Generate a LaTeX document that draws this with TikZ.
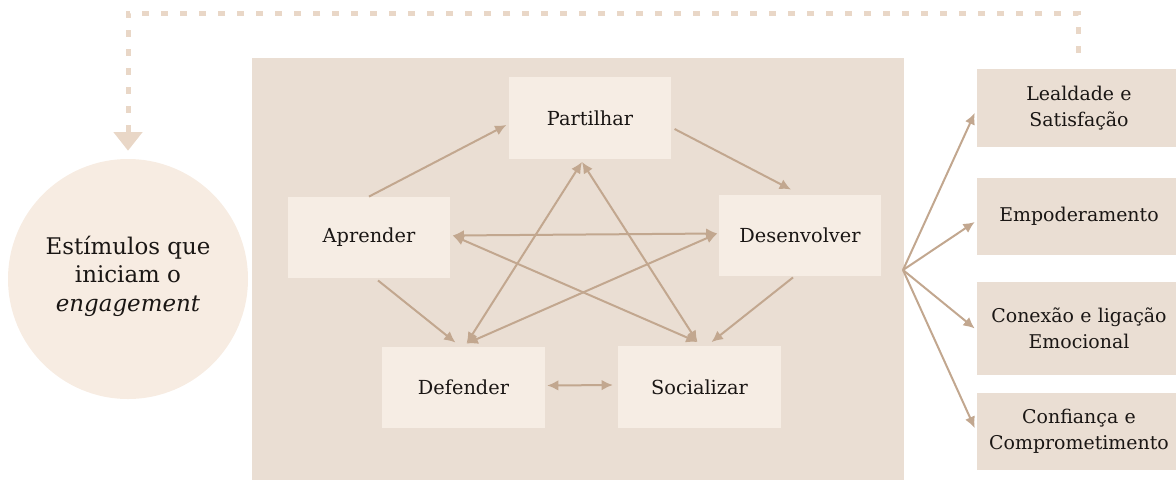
\documentclass[tikz,border=0pt]{standalone}
\usepackage{fontspec}
\setmainfont{DejaVu Serif}
\usetikzlibrary{arrows.meta,calc}
\definecolor{panel}{HTML}{EADED3}
\definecolor{cardfill}{HTML}{F6EDE4}
\definecolor{circfill}{HTML}{F7ECE2}
\definecolor{linktan}{HTML}{C2A78F}
\definecolor{dashtan}{HTML}{E9D7C7}
\definecolor{inktext}{HTML}{1A1614}
\begin{document}
\begin{tikzpicture}[x=0.75pt,y=-0.75pt,>={Latex[length=8.5pt,width=8pt]},
    card/.style={fill=cardfill,inner sep=0pt,minimum width=122pt,minimum height=61pt,text=inktext,font=\fontsize{14.5}{17}\selectfont},
    outcome/.style={fill=panel,inner sep=0pt,text width=153pt,align=center,text=inktext,font=\fontsize{14.2}{19.5}\selectfont},
    link/.style={draw=linktan,line width=1.5pt}]
    \useasboundingbox (0,0) rectangle (1176,479);
    \fill[panel] (252,58) rectangle (904,485);
    % source of the stimuli
    \node[circle,fill=circfill,minimum size=180pt,inner sep=0pt,align=center,text=inktext,
      font=\fontsize{17.2}{21.5}\selectfont] (stim) at (128,279) {Estímulos que\\iniciam o\\\textit{engagement}\rule[-8pt]{0pt}{0pt}};
    % five behaviours
    \node[card] (part) at (590,118) {Partilhar};
    \node[card] (apr) at (369,237.5) {Aprender};
    \node[card] (des) at (800,235.5) {Desenvolver};
    \node[card] (def) at (463.5,387.5) {Defender};
    \node[card] (soc) at (699.5,387) {Socializar};
    % outcomes
    \node[outcome,minimum height=58.5pt] (lead) at (1079,108) {Lealdade e\\Satisfação};
    \node[outcome,minimum height=57.75pt] (empo) at (1079,216.5) {Empoderamento};
    \node[outcome,minimum height=69.75pt] (conex) at (1079,328.5) {Conexão e ligação\\Emocional};
    \node[outcome,minimum height=57.75pt] (trust) at (1079,431.5) {Confiança e\\Comprometimento};
    % outer ring
    \draw[link,->] (apr.north) -- ($(part.west)+(-2,7)$);
    \draw[link,->] ($(part.east)+(3,11)$) -- ($(des.north)+(-9,-5)$);
    \draw[link,->] ($(des.south)+(-7,1)$) -- ($(soc.north)+(12,-4)$);
    \draw[link,->] ($(apr.south)+(9,2)$) -- ($(def.north)+(-8,-4)$);
    \draw[link,<->] ($(def.east)+(2,-2)$) -- ($(soc.west)+(-5,-2)$);
    % star
    \draw[link,<->] ($(apr.east)+(2,-2)$) -- ($(des.west)+(-1,-2)$);
    \draw[link,<->] ($(apr.east)+(2,-2)$) -- ($(soc.north)+(-2,-4)$);
    \draw[link,<->] ($(part.south)+(-8,3)$) -- ($(def.north)+(3,-3)$);
    \draw[link,<->] ($(part.south)+(-8,3)$) -- ($(soc.north)+(-2,-4)$);
    \draw[link,<->] ($(des.west)+(-1,-2)$) -- ($(def.north)+(3,-3)$);
    % fan to the outcomes
    \coordinate (fan) at (903,270);
    \foreach \o/\dy in {lead/5,empo/5.5,conex/0,trust/-3.5}
      \draw[link,->] (fan) -- ($(\o.west)+(-2,\dy)$);
    % feedback loop
    \coordinate (fb) at (1078,53);
    \draw[dashtan,line width=3.75pt,dash pattern=on 5.25pt off 9pt,
      -{Triangle[length=14pt,width=21pt]},shorten >=6pt] (fb) |- (128,13) -- (stim.north);
\end{tikzpicture}
\end{document}
